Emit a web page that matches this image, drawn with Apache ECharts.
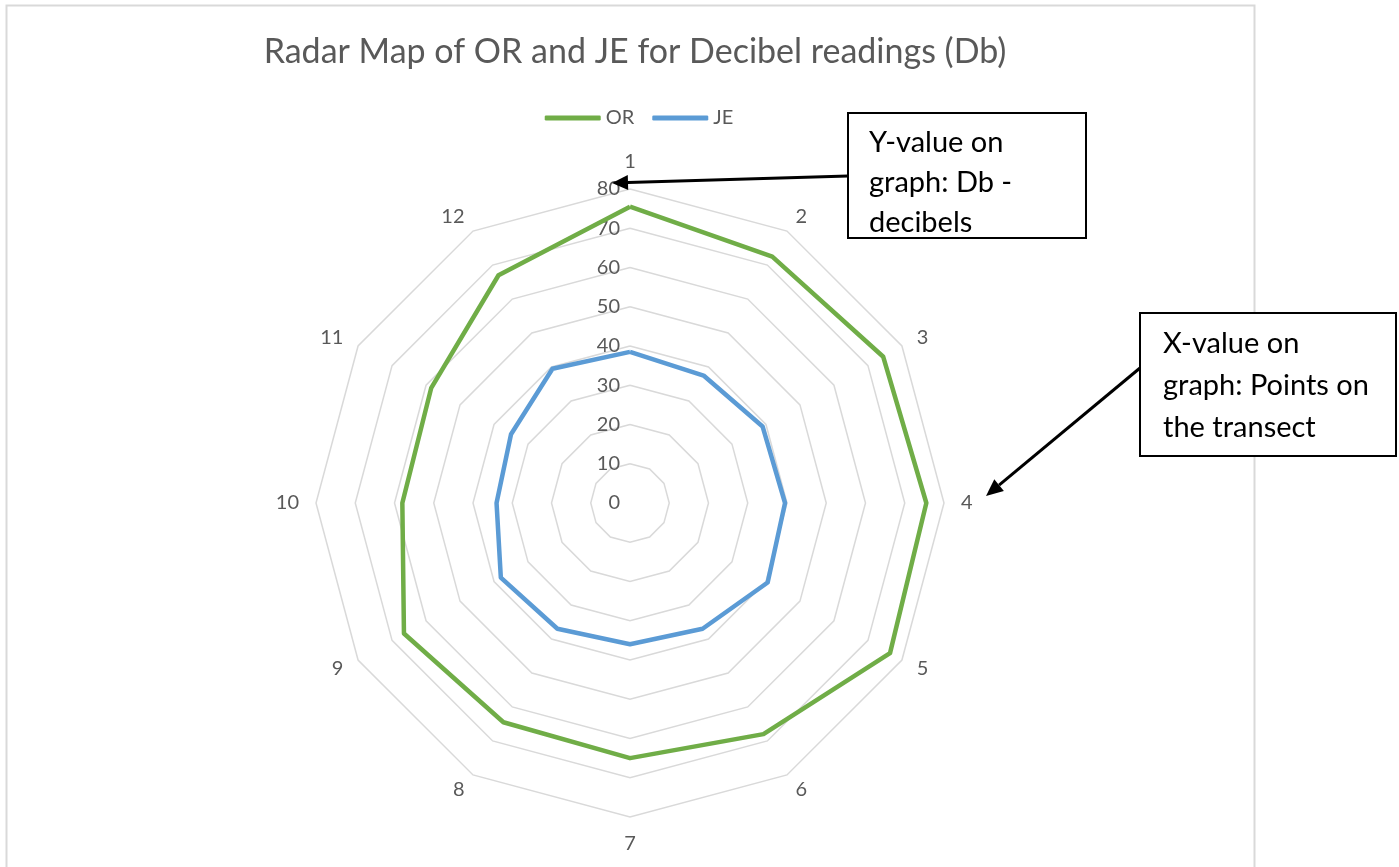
<!DOCTYPE html>
<html>
<head>
<meta charset="utf-8">
<script src="https://cdn.jsdelivr.net/npm/echarts@6/dist/echarts.min.js"></script>
<style>
html,body{margin:0;padding:0;background:#fff;}
#chart{width:1399px;height:867px;}
</style>
</head>
<body>
<div id="chart"></div>
<script>
// ---- data ----
const categories = ['1','2','3','4','5','6','7','8','9','10','11','12'];
const seriesNames = ['OR', 'JE'];
const orValues = [75.5, 72.5, 74.5, 75.5, 76.5, 68, 65, 64.5, 66.5, 58, 58.5, 67];
const jeValues = [38.5, 37.5, 39, 39.5, 40.5, 37, 36, 37, 38, 34, 35, 39.5];
const axisMin = 0;
const axisMax = 80;
const axisSplit = 8;
const titleText = 'Radar Map of OR and JE for Decibel readings (Db)';
const noteY = ['Y-value on', 'graph: Db -', 'decibels'];
const noteX = ['X-value on', 'graph: Points on', 'the transect'];

// ---- layout helpers ----
const FONT = 'Lato';
const GREY = '#595959';
const centerX = 630, centerY = 503, radius = 314;

function textWidth(txt, px) {
  const c = document.createElement('canvas').getContext('2d');
  c.font = px + 'px ' + FONT;
  return c.measureText(txt).width;
}

// ECharts radar runs counter-clockwise; reorder so indicators run clockwise from top
const order = [0].concat(categories.map((_, i) => i).slice(1).reverse());
const indicators = order.map((i, k) => ({
  name: categories[i], min: axisMin, max: axisMax,
  axisLabel: { show: k === 0 }
}));

const titleSize = 34;
const titleLeft = centerX - textWidth(titleText, titleSize) / 2;

const legendIconW = 56, legendGap = 18, legendSize = 20;
const legendW = seriesNames.reduce((s, n) => s + legendIconW + 5 + textWidth(n, legendSize), 0) + legendGap * (seriesNames.length - 1);
const legendLeft = 634 - legendW / 2;

function arrow(x1, y1, tx, ty, headLen, headHalf) {
  const dx = tx - x1, dy = ty - y1, L = Math.hypot(dx, dy);
  const ux = dx / L, uy = dy / L;
  const bx = tx - ux * headLen, by = ty - uy * headLen;
  const px = -uy * headHalf, py = ux * headHalf;
  return [
    { type: 'line', z: 20, silent: true, shape: { x1: x1, y1: y1, x2: bx, y2: by }, style: { stroke: '#000', lineWidth: 3 } },
    { type: 'polygon', z: 20, silent: true, shape: { points: [[tx, ty], [bx + px, by + py], [bx - px, by - py]] }, style: { fill: '#000' } }
  ];
}

function noteBox(x, y, w, h, lines, tx, ty0, step) {
  const els = [{ type: 'rect', z: 15, silent: true, shape: { x: x, y: y, width: w, height: h }, style: { fill: '#fff', stroke: '#000', lineWidth: 2 } }];
  lines.forEach((t, i) => {
    els.push({ type: 'text', z: 16, silent: true, style: { text: t, x: tx, y: ty0 + i * step, fill: '#000', font: '29px ' + FONT, textAlign: 'left', textVerticalAlign: 'middle' } });
  });
  return els;
}

const graphics = [
  { type: 'rect', z: 0, silent: true, shape: { x: 6.5, y: 5.5, width: 1248, height: 880 }, style: { fill: 'none', stroke: '#D9D9D9', lineWidth: 2 } }
].concat(
  noteBox(848, 113, 238, 125, noteY, 869, 143, 40),
  noteBox(1140, 313, 256, 143, noteX, 1163, 344, 42),
  arrow(848, 176, 612, 183, 16, 7.5),
  arrow(1140, 368, 986, 496, 17, 7.5)
);

const chart = echarts.init(document.getElementById('chart'), null, { renderer: 'canvas' });
chart.setOption({
  backgroundColor: '#fff',
  animation: false,
  title: {
    text: titleText,
    left: titleLeft,
    top: 30,
    textStyle: { color: GREY, fontSize: titleSize, fontWeight: 'normal', fontFamily: FONT }
  },
  legend: {
    data: seriesNames,
    left: legendLeft,
    top: 103,
    itemWidth: legendIconW,
    itemHeight: 5,
    itemGap: legendGap,
    icon: 'roundRect',
    textStyle: { color: GREY, fontSize: legendSize, fontFamily: FONT }
  },
  radar: {
    center: [centerX, centerY],
    radius: radius,
    startAngle: 90,
    shape: 'polygon',
    splitNumber: axisSplit,
    indicator: indicators,
    nameGap: 17,
    axisName: { color: GREY, fontSize: 20, fontFamily: FONT },
    axisLine: { show: false },
    axisTick: { show: false },
    splitArea: { show: false },
    splitLine: { lineStyle: { color: '#D9D9D9', width: 1.5 } },
    axisLabel: { show: true, color: GREY, fontSize: 20, fontFamily: FONT, margin: 10 }
  },
  series: [{
    type: 'radar',
    symbol: 'none',
    data: [
      { name: seriesNames[0], value: order.map(i => orValues[i]),
        lineStyle: { color: '#70AD47', width: 4.5 }, itemStyle: { color: '#70AD47' } },
      { name: seriesNames[1], value: order.map(i => jeValues[i]),
        lineStyle: { color: '#5B9BD5', width: 4.5 }, itemStyle: { color: '#5B9BD5' } }
    ]
  }],
  graphic: graphics
});
</script>
</body>
</html>
